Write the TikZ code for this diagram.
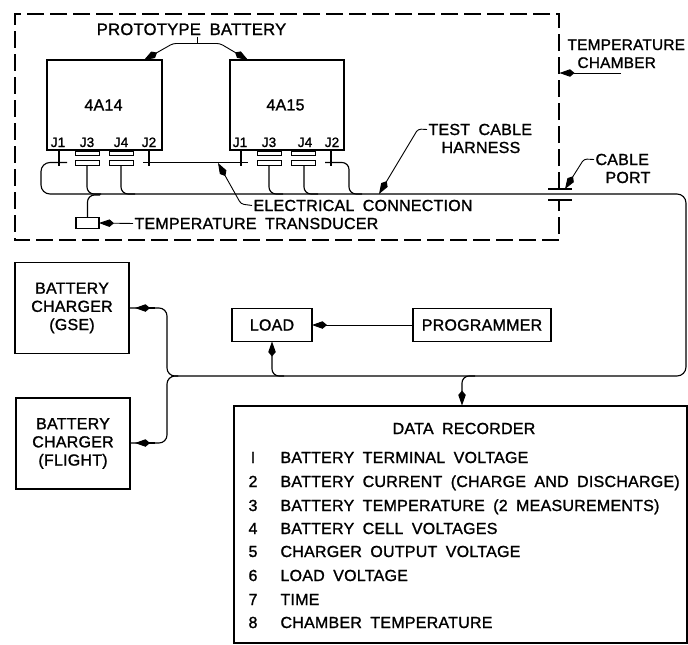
\documentclass[tikz,border=0pt]{standalone}
\usepackage{fontspec}
\setmainfont{Liberation Sans}[WordSpace=1.8,LetterSpace=1.5,RawFeature={embolden=1.3}]
\usetikzlibrary{arrows.meta}
\tikzset{
  wire/.style={line width=1.15pt,rounded corners=7pt},
  hd/.style={-{Kite[length=15pt,width=7.5pt,inset=4.5pt]}},
  lead/.style={line width=0.9pt,rounded corners=3pt,hd},
  feed/.style={line width=1.15pt,rounded corners=7pt,hd},
  box/.style={draw,line width=1.2pt,inner sep=0pt,outer sep=0pt,align=center,font=\fontsize{16}{18.2}\selectfont},
  txt/.style={inner sep=0pt,outer sep=1.5pt,anchor=base,font=\fontsize{16}{18}\selectfont},
  ltxt/.style={txt,anchor=base west},
  jlab/.style={inner sep=0pt,anchor=base,font=\fontsize{13.5}{14}\selectfont},
  plug/.style={draw,line width=1pt,inner sep=0pt,outer sep=0pt,minimum width=24pt,minimum height=4.5pt},
}
\begin{document}
\begin{tikzpicture}[x=1pt,y=-1pt]
\useasboundingbox (0,0) rectangle (688,645);
% chamber (broken at the cable port)
\coordinate (chA) at (559,189);
\coordinate (chB) at (559,200);
\draw[line width=1.2pt,dash pattern=on 17pt off 6pt]
  (chA) -- (559,14) -- (15,14) -- (15,240) -- (559,240) -- (chB);
% batteries
\node[box,minimum width=115pt,minimum height=90pt] (b14) at (104.5,105) {4A14\hspace{2pt}};
\node[box,minimum width=114pt,minimum height=90pt] (b15) at (287,105) {4A15\hspace{3pt}};
\node[jlab] (la1) at (58,147) {J1};
\node[jlab] (la3) at (87,147) {J3};
\node[jlab] (la4) at (121,147) {J4};
\node[jlab] (la2) at (149,147) {J2};
\node[jlab] (lc1) at (240,147) {J1};
\node[jlab] (lc3) at (269,147) {J3};
\node[jlab] (lc4) at (305,147) {J4};
\node[jlab] (lc2) at (332,147) {J2};
% plugs
\node[plug] (a3u) at (87,153.5) {};
\node[plug] (a3l) at (87,163) {};
\node[plug] (a4u) at (121.5,153.5) {};
\node[plug] (a4l) at (121.5,163) {};
\node[plug] (c3u) at (269.5,153.5) {};
\node[plug] (c3l) at (269.5,163) {};
\node[plug] (c4u) at (303.5,153.5) {};
\node[plug] (c4l) at (303.5,163) {};
% pin junctions
\coordinate (a1p) at (59,162.5);
\coordinate (a2p) at (149,162.5);
\coordinate (c1p) at (241,162.5);
\coordinate (c2p) at (331,162.5);
\draw[wire,rounded corners=0pt] (a1p |- b14.south) -- (59,166);
\draw[wire,rounded corners=0pt] (a2p |- b14.south) -- (149,166);
\draw[wire,rounded corners=0pt] (c1p |- b15.south) -- (241,166);
\draw[wire,rounded corners=0pt] (c2p |- b15.south) -- (331,166);
% bus points
\coordinate (busL) at (41,194);
\coordinate (busE) at (686,194);
\coordinate (busB) at (686,376);
\coordinate (busW) at (178,376);
% main cable
\draw[wire,rounded corners=9pt] (67,162.5) -- (41,162.5) -- (busL) -- (busE) -- (busB) -- (busW);
\draw[wire] (143,162.5) -- (248,162.5);
\draw[wire] (325,162.5) -- (349,162.5) -- (349,194) -- (362,194);
\draw[wire] (87,165) -- (87,194) -- (101,194);
\draw[wire] (121,165) -- (121,194) -- (135,194);
\draw[wire] (269,165) -- (269,194) -- (283,194);
\draw[wire] (304,165) -- (304,194) -- (318,194);
% transducer
\node[draw,line width=1.2pt,inner sep=0pt,outer sep=0pt,minimum width=23pt,minimum height=11.5pt] (tr) at (87.5,223) {};
\draw[wire] (tr.north) -- (87.5,195) -- (100,195);
% labels in the chamber
\node[txt,font=\fontsize{16.6}{18}\selectfont] (proto) at (191.5,35) {PROTOTYPE BATTERY};
\coordinate (pj) at (197,43.5);
\draw[line width=0.9pt] (proto.south -| pj) -- (pj);
\draw[lead] (pj) -- (173,43.5) -- (144,60);
\draw[lead] (pj) -- (220,43.5) -- (248,60);
\node[ltxt] (elec) at (252,211) {ELECTRICAL CONNECTION};
\draw[lead] (elec.west) -- (241,204) -- (218,163);
\node[ltxt] (ttr) at (133,229) {TEMPERATURE TRANSDUCER};
\draw[lead] (ttr.west) -- (tr.east);
% outside labels
\node[ltxt,font=\fontsize{15.4}{18}\selectfont] (tc1) at (566,50) {TEMPERATURE};
\node[ltxt,font=\fontsize{15.4}{18}\selectfont] (tc2) at (576,68) {CHAMBER};
\coordinate (tcS) at (621,73);
\draw[lead] (tcS) -- (559.5,73);
\node[ltxt] (tch1) at (427,135) {TEST CABLE};
\node[ltxt] (tch2) at (440,153) {HARNESS};
\coordinate (tchT) at (379,194);
\draw[lead] (tch1.west) -- (418,129) -- (tchT);
\node[ltxt] (cp1) at (594,165) {CABLE};
\node[ltxt] (cp2) at (604,183) {PORT};
\coordinate (cpT) at (565,189);
\draw[lead] (cp1.west) -- (584,159) -- (cpT);
\draw[line width=1.2pt] (548,189) -- (572,189);
\draw[line width=1.2pt] (548,200) -- (572,200);
% lower part
\node[box,minimum width=114pt,minimum height=91pt] (gse) at (72,308) {BATTERY\\CHARGER\\(GSE)};
\node[box,minimum width=114pt,minimum height=91pt] (fl) at (73,443.5) {BATTERY\\CHARGER\\(FLIGHT)};
\node[box,minimum width=80pt,minimum height=33pt] (load) at (272,325) {LOAD};
\node[box,minimum width=138pt,minimum height=33pt] (prog) at (482,325) {PROGRAMMER};
\node[box,minimum width=453pt,minimum height=237pt] (data) at (460.5,524.5) {};
\coordinate (gh) at (135,308);
\coordinate (fh) at (135,443);
\draw[wire,rounded corners=8pt] (gse.east) -- (167,308) -- (167,376) -- (busW);
\draw[wire,rounded corners=8pt] (fl.east |- fh) -- (167,443) -- (167,376) -- (busW);
\draw[feed] (155,308) -- (gh);
\draw[feed] (155,443) -- (fh);
\draw[feed,line width=1pt] (prog.west) -- (load.east);
\coordinate (ld) at (284,376);
\draw[feed] (ld) -- (272,376) -- (load.south);
\coordinate (dd) at (475,376);
\draw[feed] (dd) -- (462,376) -- (462,405.5);
% recorder text
\node[txt] (dr) at (464,434) {DATA RECORDER};
\foreach \nm/\y/\num/\t in {
 r1/463/I/BATTERY TERMINAL VOLTAGE,
 r2/487/2/BATTERY CURRENT (CHARGE AND DISCHARGE),
 r3/511/3/BATTERY TEMPERATURE (2 MEASUREMENTS),
 r4/534/4/BATTERY CELL VOLTAGES,
 r5/557/5/CHARGER OUTPUT VOLTAGE,
 r6/581/6/LOAD VOLTAGE,
 r7/605/7/TIME,
 r8/628/8/CHAMBER TEMPERATURE}{
  \node[txt] (\nm n) at (253,\y) {\num};
  \node[ltxt] (\nm) at (279,\y) {\t};
}
\end{tikzpicture}
\end{document}
